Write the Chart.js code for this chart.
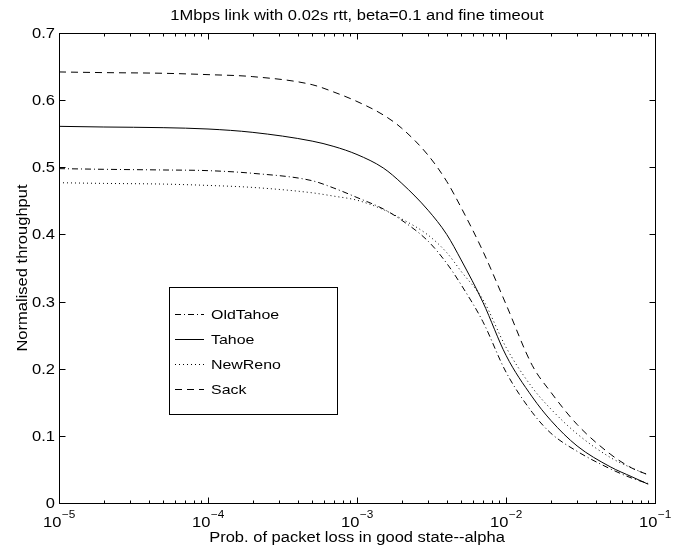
<!DOCTYPE html>
<html>
<head>
<meta charset="utf-8">
<script src="https://cdn.jsdelivr.net/npm/chart.js@4.4.1/dist/chart.umd.min.js"></script>
<style>
  html, body { margin: 0; padding: 0; background: #fff; }
  canvas { display: block; }
</style>
</head>
<body>
<canvas id="myChart" width="679" height="549"></canvas>
<script>
// values
var alpha = [1e-5, 2e-5, 5e-5, 1e-4, 2e-4, 5e-4, 7e-4, 1e-3, 1.5e-3, 2e-3, 3e-3, 4e-3, 5e-3, 7e-3, 1e-2, 1.5e-2, 2e-2, 3e-2, 5e-2, 7e-2, 9e-2];
var oldTahoe = [0.498, 0.497, 0.496, 0.495, 0.491, 0.480, 0.469, 0.455, 0.438, 0.421, 0.390, 0.357, 0.325, 0.270, 0.195, 0.135, 0.104, 0.077, 0.051, 0.037, 0.029];
var tahoe    = [0.561, 0.560, 0.559, 0.557, 0.552, 0.539, 0.531, 0.519, 0.499, 0.476, 0.436, 0.400, 0.362, 0.299, 0.220, 0.158, 0.123, 0.085, 0.054, 0.039, 0.028];
var newReno  = [0.477, 0.476, 0.475, 0.473, 0.470, 0.462, 0.457, 0.451, 0.437, 0.423, 0.399, 0.373, 0.345, 0.303, 0.232, 0.172, 0.140, 0.103, 0.068, 0.052, 0.042];
var sack     = [0.642, 0.641, 0.640, 0.638, 0.635, 0.623, 0.612, 0.598, 0.578, 0.558, 0.518, 0.479, 0.440, 0.375, 0.296, 0.205, 0.165, 0.117, 0.073, 0.052, 0.042];

var seriesNames = ["OldTahoe", "Tahoe", "NewReno", "Sack"];
var xTickExp = [-5, -4, -3, -2, -1];
var yTicks = [0, 0.1, 0.2, 0.3, 0.4, 0.5, 0.6, 0.7];

var titleText = "1Mbps link with 0.02s rtt, beta=0.1 and fine timeout";
var xTitle = "Prob. of packet loss in good state--alpha";
var yTitle = "Normalised throughput";

var FONT = "'Liberation Sans', Arial, Helvetica, sans-serif";
var SX = 1.18; // the reference text is a bit wide for its height

function pts(ys) {
  return alpha.map(function (a, i) { return { x: a, y: ys[i] }; });
}

function makeSet(label, ys, dash) {
  return {
    label: label,
    data: pts(ys),
    borderColor: "#000",
    borderWidth: 1,
    borderDash: dash,
    pointRadius: 0,
    fill: false,
    cubicInterpolationMode: "monotone"
  };
}

function wideText(ctx, s, x, y, align, size, rot) {
  ctx.save();
  ctx.translate(x, y);
  if (rot) ctx.rotate(rot);
  ctx.scale(SX, 1);
  ctx.font = size + "px " + FONT;
  ctx.textAlign = align;
  ctx.fillText(s, 0, 0);
  ctx.restore();
}

function textW(ctx, s, size) {
  ctx.font = size + "px " + FONT;
  return ctx.measureText(s).width * SX;
}

// draws the box, inside ticks, all the texts and the legend
var matlabLook = {
  id: "matlabLook",
  afterDraw: function (chart) {
    var ctx = chart.ctx;
    var a = chart.chartArea;
    var xs = chart.scales.x;
    var ys = chart.scales.y;
    var L = Math.round(a.left) + 0.5, R = Math.round(a.right) + 0.5;
    var T = Math.round(a.top) + 0.5, B = Math.round(a.bottom) + 0.5;

    ctx.save();
    ctx.strokeStyle = "#000";
    ctx.lineWidth = 1;
    ctx.setLineDash([]);
    ctx.strokeRect(L, T, R - L, B - T);

    ctx.beginPath();
    // x ticks, major and minor, top and bottom
    xTickExp.forEach(function (e) {
      for (var m = 1; m <= 9; m++) {
        var v = m * Math.pow(10, e);
        if (v > 0.1 + 1e-12) break;
        var px = Math.round(xs.getPixelForValue(v)) + 0.5;
        var len = m == 1 ? 6 : 3;
        ctx.moveTo(px, B); ctx.lineTo(px, B - len);
        ctx.moveTo(px, T); ctx.lineTo(px, T + len);
      }
    });
    // y ticks left and right
    yTicks.forEach(function (v) {
      var py = Math.round(ys.getPixelForValue(v)) + 0.5;
      ctx.moveTo(L, py); ctx.lineTo(L + 6, py);
      ctx.moveTo(R, py); ctx.lineTo(R - 6, py);
    });
    ctx.stroke();

    ctx.fillStyle = "#000";
    ctx.textBaseline = "alphabetic";
    // y tick labels
    yTicks.forEach(function (v) {
      wideText(ctx, v == 0 ? "0" : v.toFixed(1), a.left - 4, ys.getPixelForValue(v) + 5, "right", 14);
    });

    // x tick labels as 10 with a raised exponent
    xTickExp.forEach(function (e) {
      var px = xs.getPixelForValue(Math.pow(10, e));
      var sup = "\u2212" + Math.abs(e);
      var w1 = textW(ctx, "10", 14);
      var w2 = textW(ctx, sup, 10);
      var x0 = px - (w1 + w2) / 2;
      wideText(ctx, "10", x0, a.bottom + 24, "left", 14);
      wideText(ctx, sup, x0 + w1 + 0.5, a.bottom + 15, "left", 10);
    });

    // titles
    wideText(ctx, titleText, (a.left + a.right) / 2, 20, "center", 14);
    wideText(ctx, xTitle, (a.left + a.right) / 2, 542, "center", 14);
    wideText(ctx, yTitle, 27, (a.top + a.bottom) / 2, "center", 14, -Math.PI / 2);

    // legend box
    var bx = 169.5, by = 287.5, bw = 168, bh = 127;
    ctx.fillStyle = "#fff";
    ctx.fillRect(bx, by, bw, bh);
    ctx.strokeStyle = "#000";
    ctx.strokeRect(bx, by, bw, bh);
    chart.data.datasets.forEach(function (ds, i) {
      var ry = Math.round(314 + i * 25.1);
      ctx.beginPath();
      ctx.setLineDash(ds.borderDash || []);
      ctx.moveTo(175, ry + 0.5);
      ctx.lineTo(204, ry + 0.5);
      ctx.stroke();
      ctx.setLineDash([]);
      ctx.fillStyle = "#000";
      wideText(ctx, ds.label, 211, ry + 5, "left", 13.5);
    });
    ctx.restore();
  }
};

var config = {
  type: "line",
  data: {
    datasets: [
      makeSet(seriesNames[0], oldTahoe, [6, 3, 1, 3]),
      makeSet(seriesNames[1], tahoe, []),
      makeSet(seriesNames[2], newReno, [1, 3]),
      makeSet(seriesNames[3], sack, [7, 5])
    ]
  },
  options: {
    responsive: false,
    devicePixelRatio: 1,
    animation: false,
    layout: { padding: { top: 33, right: 24, bottom: 0, left: 0 } },
    plugins: {
      legend: { display: false },
      tooltip: { enabled: false },
      title: { display: false }
    },
    scales: {
      x: {
        type: "logarithmic",
        min: 1e-5,
        max: 1e-1,
        ticks: { display: false },
        grid: { display: false },
        border: { display: false },
        afterFit: function (s) { s.height = 46; }
      },
      y: {
        min: 0,
        max: 0.7,
        ticks: { display: false },
        grid: { display: false },
        border: { display: false },
        afterFit: function (s) { s.width = 59; }
      }
    }
  },
  plugins: [matlabLook]
};

var myChart = new Chart(document.getElementById("myChart"), config);
</script>
</body>
</html>
